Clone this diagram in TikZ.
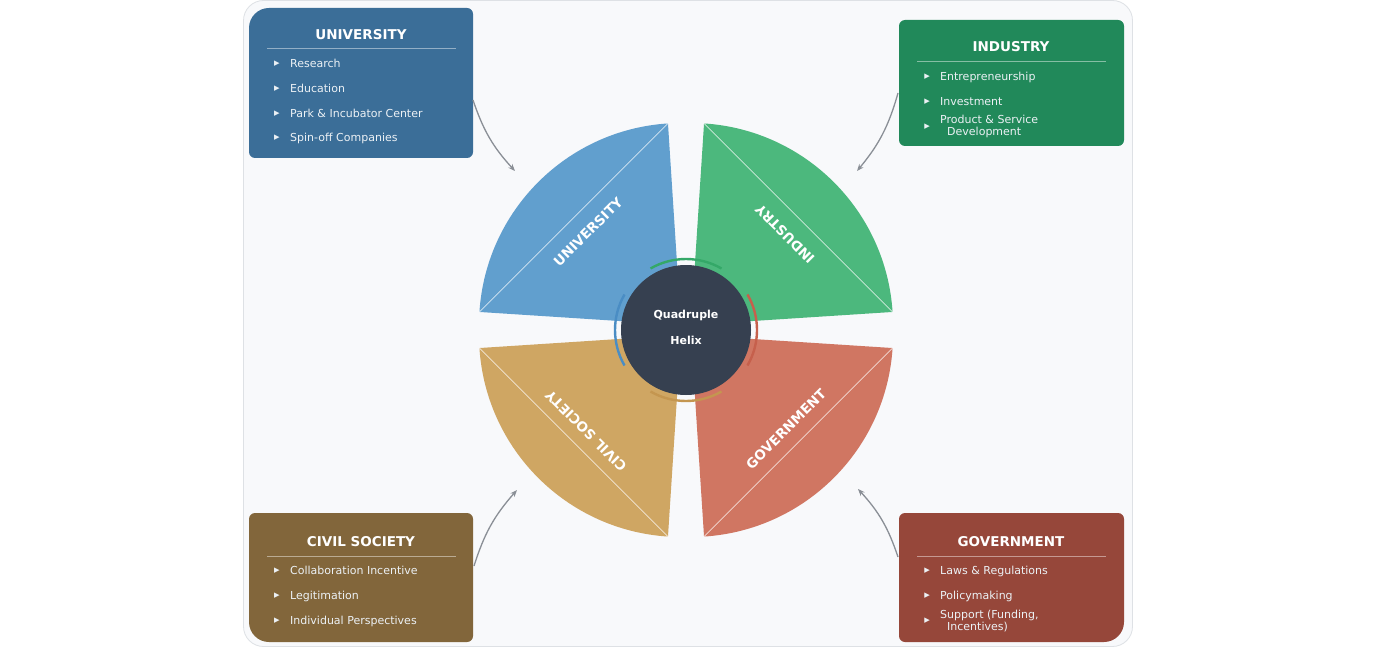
\documentclass[tikz,border=0pt]{standalone}
\usepackage{fontspec}
\setmainfont{DejaVu Sans}
\usetikzlibrary{calc,arrows.meta}
\definecolor{panel}{RGB}{248,249,251}
\definecolor{panelb}{RGB}{222,225,229}
\definecolor{ubox}{RGB}{59,110,152}
\definecolor{ibox}{RGB}{33,137,90}
\definecolor{cbox}{RGB}{130,102,59}
\definecolor{gbox}{RGB}{150,71,58}
\definecolor{uw}{RGB}{97,159,206}
\definecolor{iw}{RGB}{76,184,125}
\definecolor{cw}{RGB}{207,166,99}
\definecolor{gw}{RGB}{208,118,98}
\definecolor{ua}{RGB}{74,141,196}
\definecolor{ia}{RGB}{52,168,104}
\definecolor{ca}{RGB}{196,150,80}
\definecolor{ga}{RGB}{198,96,76}
\definecolor{hubc}{RGB}{54,64,80}
\definecolor{itemc}{RGB}{236,241,245}
\definecolor{arrowc}{RGB}{138,143,150}
\begin{document}
\begin{tikzpicture}[x=1pt,y=1pt,
  boxtitle/.style={text=white, font=\bfseries\fontsize{13.5}{16}\selectfont, inner sep=0, yshift=-1pt},
  item/.style={text=itemc, font=\fontsize{11}{12}\selectfont, anchor=west, inner sep=0, text height=8.5pt, text depth=2.5pt, yshift=-1.5pt},
  itemtwo/.style={text=itemc, font=\fontsize{11}{12}\selectfont, anchor=west, inner sep=0, align=left, yshift=-1.5pt},
  bul/.style={text=itemc, font=\fontsize{11}{11}\selectfont, inner sep=0},
  wlabel/.style={text=white, font=\bfseries\fontsize{13.5}{16}\selectfont, inner sep=0},
  conn/.style={draw=arrowc, line width=1.3pt, -{Stealth[length=7pt,width=5.5pt]}},
  chord/.style={draw=white, draw opacity=0.75, line width=0.8pt},
  rulestyle/.style={draw=white, draw opacity=0.45, line width=0.9pt},
  ringarc/.style={line width=2.4pt},
]
\useasboundingbox (0,0) rectangle (1376,-647);
\fill[white] (0,0) rectangle (1376,-647);
\draw[fill=panel, draw=panelb, line width=0.8pt, rounded corners=20pt] (243.5,-0.5) rectangle (1132.5,-646.5);

% ---- wedges ----
\coordinate (UP) at (681,-325);
\coordinate (IP) at (691,-325);
\coordinate (CP) at (681,-335);
\coordinate (GP) at (691,-335);
\coordinate (Ua) at ($(UP)+(93.7:202)$);
\coordinate (Ub) at ($(UP)+(176.3:202)$);
\coordinate (Ia) at ($(IP)+(86.3:202)$);
\coordinate (Ib) at ($(IP)+(3.7:202)$);
\coordinate (Ca) at ($(CP)+(183.7:202)$);
\coordinate (Cb) at ($(CP)+(266.3:202)$);
\coordinate (Ga) at ($(GP)+(273.7:202)$);
\coordinate (Gb) at ($(GP)+(356.3:202)$);

\fill[uw] (UP) -- (Ua) arc[start angle=93.7, end angle=176.3, radius=202] -- cycle;
\fill[iw] (IP) -- (Ib) arc[start angle=3.7, end angle=86.3, radius=202] -- cycle;
\fill[cw] (CP) -- (Ca) arc[start angle=183.7, end angle=266.3, radius=202] -- cycle;
\fill[gw] (GP) -- (Ga) arc[start angle=273.7, end angle=356.3, radius=202] -- cycle;

\draw[chord] (Ua) -- (Ub);
\draw[chord] (Ia) -- (Ib);
\draw[chord] (Ca) -- (Cb);
\draw[chord] (Ga) -- (Gb);

\node[wlabel, rotate=45] (ulab) at (588,-232) {UNIVERSITY};
\node[wlabel, rotate=135] (ilab) at (785,-234) {INDUSTRY};
\node[wlabel, rotate=135] (clab) at (586,-431) {CIVIL SOCIETY};
\node[wlabel, rotate=45] (glab) at (786,-429) {GOVERNMENT};

% ---- hub ----
\draw[ringarc, ia] ($(686,-330)+(60:71)$) arc[start angle=60, end angle=120, radius=71];
\draw[ringarc, ga] ($(686,-330)+(-30:71)$) arc[start angle=-30, end angle=30, radius=71];
\draw[ringarc, ca] ($(686,-330)+(240:71)$) arc[start angle=240, end angle=300, radius=71];
\draw[ringarc, ua] ($(686,-330)+(150:71)$) arc[start angle=150, end angle=210, radius=71];
\node[circle, fill=hubc, minimum size=130pt, inner sep=0] (hub) at (686,-330) {};
\node[text=white, align=center, inner sep=0,
      font=\bfseries\fontsize{11}{26}\selectfont] (hubtext) at (686,-327.5) {Quadruple\\Helix};

% ---- boxes ----
% University (top-left large corner)
\fill[ubox] (249,-28) arc[start angle=180, end angle=90, radius=20] -- (467,-8)
  arc[start angle=90, end angle=0, radius=6] -- (473,-152)
  arc[start angle=0, end angle=-90, radius=6] -- (255,-158)
  arc[start angle=270, end angle=180, radius=6] -- cycle;
\node[boxtitle] (utitle) at (361,-34) {UNIVERSITY};
\draw[rulestyle] (267,-48) -- (456,-48);
\node[bul] (ub1) at (277,-64) {▸};
\node[item] (ui1) at (290,-63) {Research};
\node[bul] (ub2) at (277,-89) {▸};
\node[item] (ui2) at (290,-88) {Education};
\node[bul] (ub3) at (277,-114) {▸};
\node[item] (ui3) at (290,-113) {Park \& Incubator Center};
\node[bul] (ub4) at (277,-138) {▸};
\node[item] (ui4) at (290,-137) {Spin-off Companies};

% Industry
\fill[ibox, rounded corners=6pt] (899,-20) rectangle (1124,-146);
\node[boxtitle] (ititle) at (1011,-46) {INDUSTRY};
\draw[rulestyle] (917,-61) -- (1106,-61);
\node[bul] (ib1) at (927,-77) {▸};
\node[item] (ii1) at (940,-76) {Entrepreneurship};
\node[bul] (ib2) at (927,-102) {▸};
\node[item] (ii2) at (940,-101) {Investment};
\node[bul] (ib3) at (927,-127) {▸};
\node[itemtwo] (ii3) at (940,-125) {Product \& Service\\\hspace*{7pt}Development};

% Civil society (bottom-left large corner)
\fill[cbox] (249,-519) arc[start angle=180, end angle=90, radius=6] -- (467,-513)
  arc[start angle=90, end angle=0, radius=6] -- (473,-636)
  arc[start angle=0, end angle=-90, radius=6] -- (269,-642)
  arc[start angle=270, end angle=180, radius=20] -- cycle;
\node[boxtitle] (ctitle) at (361,-541) {CIVIL SOCIETY};
\draw[rulestyle] (267,-556) -- (456,-556);
\node[bul] (cb1) at (277,-571) {▸};
\node[item] (ci1) at (290,-570) {Collaboration Incentive};
\node[bul] (cb2) at (277,-596) {▸};
\node[item] (ci2) at (290,-595) {Legitimation};
\node[bul] (cb3) at (277,-621) {▸};
\node[item] (ci3) at (290,-620) {Individual Perspectives};

% Government (bottom-right large corner)
\fill[gbox] (899,-519) arc[start angle=180, end angle=90, radius=6] -- (1118,-513)
  arc[start angle=90, end angle=0, radius=6] -- (1124,-622)
  arc[start angle=0, end angle=-90, radius=20] -- (905,-642)
  arc[start angle=270, end angle=180, radius=6] -- cycle;
\node[boxtitle] (gtitle) at (1011,-541) {GOVERNMENT};
\draw[rulestyle] (917,-556) -- (1106,-556);
\node[bul] (gb1) at (927,-571) {▸};
\node[item] (gi1) at (940,-570) {Laws \& Regulations};
\node[bul] (gb2) at (927,-596) {▸};
\node[item] (gi2) at (940,-595) {Policymaking};
\node[bul] (gb3) at (927,-621) {▸};
\node[itemtwo] (gi3) at (940,-620) {Support (Funding,\\\hspace*{7pt}Incentives)};

% ---- connectors ----
\coordinate (us) at (473,-100);
\coordinate (ue) at (515,-171);
\coordinate (is) at (898,-93);
\coordinate (ie) at (857,-171);
\coordinate (cs) at (474,-566);
\coordinate (ce) at (517,-490);
\coordinate (gs) at (898,-557);
\coordinate (ge) at (858,-489);
\draw[conn] (us) to[bend right=12] (ue);
\draw[conn] (is) to[bend left=12] (ie);
\draw[conn] (cs) to[bend left=12] (ce);
\draw[conn] (gs) to[bend right=12] (ge);
\end{tikzpicture}
\end{document}
